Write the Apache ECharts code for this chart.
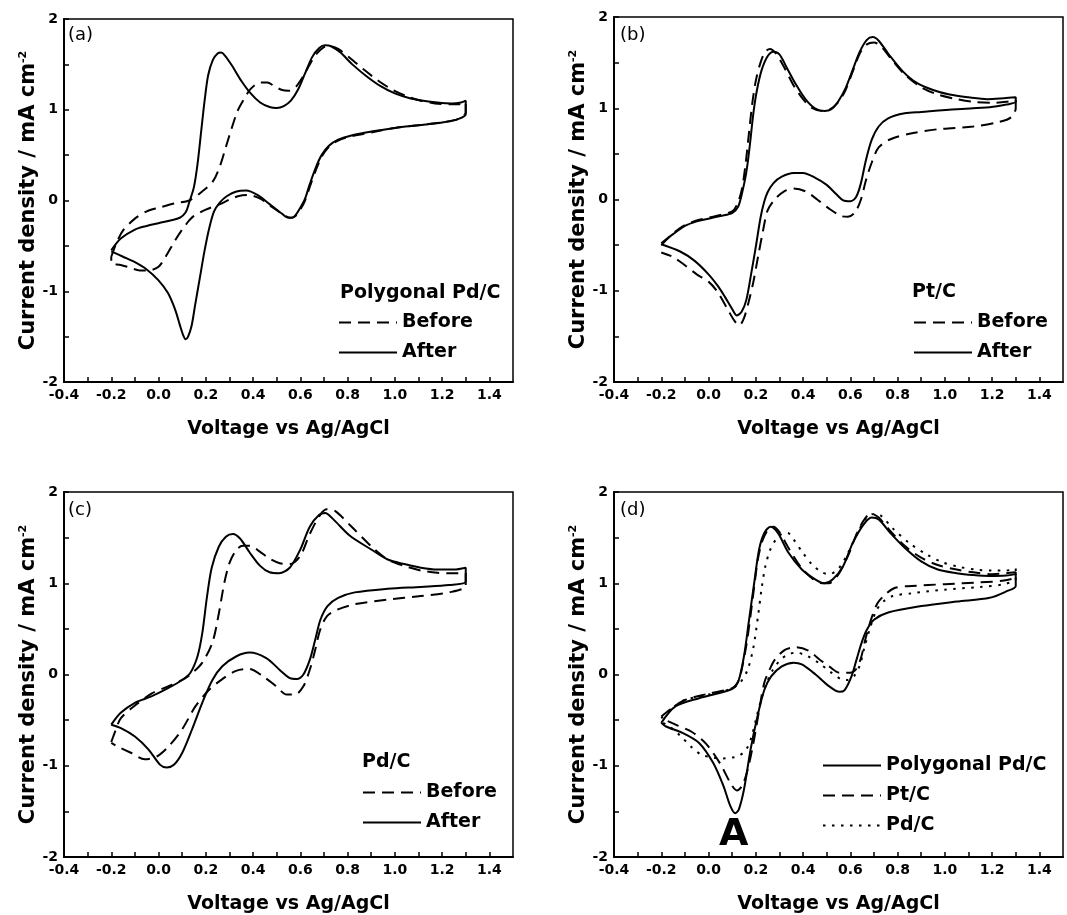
<!DOCTYPE html>
<html><head><meta charset="utf-8">
<script src="https://cdn.jsdelivr.net/npm/echarts@6/dist/echarts.min.js"></script>
<style>html,body{margin:0;padding:0;background:#fff}#c{width:1067px;height:915px}</style>
</head><body><div id="c"></div>
<script>
// ---- tick labels / tick marks ----
const xTickLabels = [-0.4, -0.2, 0.0, 0.2, 0.4, 0.6, 0.8, 1.0, 1.2, 1.4];
const xTickMarks = [-0.4, -0.3, -0.2, -0.1, 0.0, 0.1, 0.2, 0.3, 0.4, 0.5, 0.6, 0.7, 0.8, 0.9, 1.0, 1.1, 1.2, 1.3, 1.4];
const yTickLabels = [-2, -1, 0, 1, 2];
const yTickMarks = [-2, -1.5, -1, -0.5, 0, 0.5, 1, 1.5, 2];

const panelLetters = ['(a)', '(b)', '(c)', '(d)'];
const legendTitles = ['Polygonal Pd/C', 'Pt/C', 'Pd/C'];
const xName = 'Voltage vs Ag/AgCl';

// ---- panel (a): Polygonal Pd/C ----
const aBefore = [
[-0.2,-0.62],[-0.18,-0.48],[-0.15,-0.33],[-0.1,-0.2],[-0.05,-0.12],[0.0,-0.08],[0.07,-0.03],[0.13,0.0],[0.185,0.1],[0.23,0.21],[0.26,0.38],[0.285,0.59],[0.31,0.8],[0.335,0.99],[0.36,1.11],[0.39,1.23],[0.43,1.3],[0.46,1.3],[0.49,1.26],[0.52,1.22],[0.55,1.21],[0.58,1.25],[0.61,1.36],[0.64,1.5],[0.67,1.62],[0.7,1.69],[0.725,1.7],[0.76,1.67],[0.81,1.57],[0.87,1.44],[0.93,1.32],[0.99,1.22],[1.05,1.15],[1.11,1.1],[1.17,1.07],[1.23,1.06],[1.27,1.06],[1.3,1.08],
[1.3,0.97],[1.27,0.9],[1.2,0.86],[1.1,0.83],[1.0,0.8],[0.9,0.75],[0.82,0.71],[0.76,0.66],[0.72,0.59],[0.69,0.48],[0.665,0.33],[0.64,0.15],[0.62,0.0],[0.6,-0.1],[0.58,-0.17],[0.56,-0.19],[0.53,-0.16],[0.48,-0.07],[0.43,0.02],[0.38,0.06],[0.34,0.05],[0.3,0.01],[0.26,-0.04],[0.2,-0.1],[0.15,-0.17],[0.13,-0.22],[0.1,-0.32],[0.07,-0.44],[0.03,-0.62],[0.0,-0.73],[-0.04,-0.77],[-0.08,-0.77],[-0.12,-0.74],[-0.16,-0.71],[-0.2,-0.69],[-0.2,-0.62]
];
const aAfter = [
[-0.2,-0.55],[-0.16,-0.42],[-0.1,-0.32],[-0.05,-0.28],[0.0,-0.25],[0.05,-0.22],[0.09,-0.19],[0.115,-0.13],[0.13,-0.02],[0.15,0.15],[0.165,0.4],[0.18,0.75],[0.195,1.1],[0.21,1.38],[0.23,1.55],[0.25,1.62],[0.265,1.63],[0.28,1.6],[0.31,1.49],[0.35,1.32],[0.39,1.18],[0.43,1.08],[0.47,1.03],[0.5,1.02],[0.53,1.04],[0.56,1.1],[0.59,1.22],[0.62,1.4],[0.65,1.58],[0.68,1.68],[0.705,1.71],[0.73,1.7],[0.77,1.63],[0.82,1.5],[0.88,1.37],[0.94,1.26],[1.0,1.18],[1.06,1.13],[1.12,1.1],[1.18,1.08],[1.24,1.07],[1.28,1.08],[1.3,1.1],
[1.3,0.95],[1.27,0.9],[1.2,0.86],[1.1,0.83],[1.0,0.8],[0.9,0.76],[0.82,0.72],[0.76,0.67],[0.72,0.6],[0.69,0.5],[0.665,0.36],[0.64,0.18],[0.62,0.02],[0.6,-0.08],[0.58,-0.16],[0.565,-0.19],[0.55,-0.19],[0.52,-0.14],[0.47,-0.04],[0.42,0.06],[0.37,0.11],[0.33,0.1],[0.29,0.05],[0.26,-0.02],[0.235,-0.12],[0.215,-0.3],[0.195,-0.55],[0.175,-0.85],[0.155,-1.15],[0.14,-1.38],[0.125,-1.5],[0.115,-1.53],[0.105,-1.49],[0.09,-1.37],[0.07,-1.2],[0.04,-1.02],[0.0,-0.88],[-0.05,-0.76],[-0.1,-0.68],[-0.15,-0.62],[-0.2,-0.56]
];

// ---- panel (b): Pt/C ----
const bBefore = [
[-0.2,-0.5],[-0.15,-0.37],[-0.1,-0.28],[-0.05,-0.23],[0.0,-0.2],[0.05,-0.17],[0.1,-0.13],[0.12,-0.06],[0.14,0.1],[0.155,0.35],[0.17,0.7],[0.185,1.05],[0.2,1.3],[0.22,1.5],[0.24,1.62],[0.26,1.65],[0.285,1.6],[0.32,1.45],[0.36,1.25],[0.4,1.1],[0.44,1.0],[0.48,0.97],[0.51,0.98],[0.55,1.07],[0.58,1.2],[0.61,1.4],[0.64,1.6],[0.67,1.7],[0.7,1.72],[0.73,1.68],[0.77,1.55],[0.83,1.37],[0.9,1.23],[0.97,1.15],[1.05,1.1],[1.12,1.07],[1.2,1.06],[1.26,1.07],[1.3,1.09],
[1.3,1.0],[1.28,0.9],[1.23,0.85],[1.12,0.8],[0.97,0.77],[0.85,0.72],[0.77,0.66],[0.72,0.57],[0.69,0.4],[0.665,0.2],[0.645,0.0],[0.62,-0.14],[0.59,-0.19],[0.56,-0.18],[0.51,-0.1],[0.46,0.0],[0.41,0.09],[0.36,0.12],[0.32,0.09],[0.28,0.0],[0.25,-0.12],[0.23,-0.35],[0.21,-0.62],[0.19,-0.9],[0.17,-1.12],[0.15,-1.3],[0.13,-1.38],[0.11,-1.33],[0.08,-1.2],[0.04,-1.02],[0.0,-0.9],[-0.05,-0.82],[-0.1,-0.72],[-0.15,-0.63],[-0.2,-0.58]
];
const bAfter = [
[-0.2,-0.48],[-0.15,-0.38],[-0.1,-0.29],[-0.05,-0.24],[0.0,-0.21],[0.05,-0.18],[0.1,-0.15],[0.125,-0.08],[0.14,0.05],[0.16,0.3],[0.175,0.6],[0.19,0.95],[0.205,1.2],[0.225,1.42],[0.25,1.57],[0.275,1.62],[0.3,1.59],[0.33,1.45],[0.37,1.26],[0.41,1.1],[0.45,1.0],[0.49,0.97],[0.52,0.99],[0.55,1.08],[0.58,1.22],[0.61,1.42],[0.64,1.62],[0.67,1.75],[0.695,1.78],[0.72,1.74],[0.76,1.6],[0.82,1.41],[0.88,1.28],[0.95,1.2],[1.02,1.15],[1.1,1.12],[1.18,1.1],[1.25,1.11],[1.3,1.12],
[1.3,1.07],[1.26,1.04],[1.19,1.01],[1.05,0.99],[0.9,0.96],[0.83,0.945],[0.76,0.89],[0.72,0.8],[0.69,0.65],[0.665,0.42],[0.645,0.18],[0.625,0.03],[0.6,-0.02],[0.57,-0.01],[0.54,0.06],[0.5,0.16],[0.45,0.24],[0.4,0.29],[0.36,0.29],[0.31,0.25],[0.275,0.18],[0.25,0.08],[0.235,-0.03],[0.22,-0.2],[0.2,-0.52],[0.18,-0.82],[0.16,-1.1],[0.14,-1.23],[0.12,-1.27],[0.1,-1.2],[0.07,-1.07],[0.04,-0.95],[0.0,-0.82],[-0.06,-0.67],[-0.12,-0.57],[-0.2,-0.49]
];

// ---- panel (c): Pd/C ----
const cBefore = [
[-0.2,-0.74],[-0.18,-0.6],[-0.16,-0.48],[-0.1,-0.34],[-0.03,-0.21],[0.04,-0.13],[0.1,-0.06],[0.14,0.01],[0.185,0.13],[0.228,0.35],[0.256,0.68],[0.278,1.0],[0.3,1.22],[0.328,1.36],[0.356,1.41],[0.39,1.41],[0.427,1.35],[0.47,1.27],[0.513,1.22],[0.556,1.21],[0.6,1.3],[0.64,1.54],[0.684,1.75],[0.713,1.81],[0.748,1.79],[0.813,1.63],[0.898,1.41],[0.97,1.26],[1.04,1.19],[1.11,1.14],[1.18,1.115],[1.25,1.11],[1.3,1.11],
[1.3,0.97],[1.23,0.9],[1.11,0.86],[0.97,0.82],[0.83,0.77],[0.756,0.71],[0.713,0.64],[0.684,0.49],[0.663,0.27],[0.641,0.06],[0.613,-0.13],[0.577,-0.22],[0.542,-0.22],[0.499,-0.13],[0.442,-0.02],[0.385,0.06],[0.328,0.04],[0.27,-0.05],[0.213,-0.17],[0.156,-0.35],[0.1,-0.6],[0.042,-0.79],[-0.008,-0.9],[-0.058,-0.93],[-0.115,-0.86],[-0.172,-0.79],[-0.2,-0.75]
];
const cAfter = [
[-0.2,-0.55],[-0.16,-0.42],[-0.1,-0.31],[-0.03,-0.24],[0.04,-0.15],[0.1,-0.06],[0.135,0.02],[0.165,0.2],[0.185,0.45],[0.205,0.85],[0.225,1.17],[0.255,1.4],[0.285,1.51],[0.315,1.54],[0.345,1.49],[0.385,1.34],[0.43,1.19],[0.47,1.12],[0.51,1.11],[0.555,1.17],[0.6,1.37],[0.64,1.62],[0.68,1.75],[0.705,1.77],[0.74,1.7],[0.81,1.52],[0.9,1.37],[0.97,1.26],[1.04,1.21],[1.11,1.17],[1.18,1.15],[1.25,1.15],[1.3,1.17],
[1.3,1.02],[1.23,0.98],[1.11,0.96],[0.97,0.94],[0.83,0.9],[0.76,0.84],[0.715,0.75],[0.685,0.6],[0.663,0.38],[0.64,0.16],[0.613,0.0],[0.585,-0.05],[0.556,-0.04],[0.513,0.05],[0.456,0.18],[0.385,0.24],[0.33,0.2],[0.27,0.09],[0.228,-0.06],[0.185,-0.31],[0.142,-0.6],[0.1,-0.86],[0.065,-0.99],[0.035,-1.02],[0.007,-0.99],[-0.043,-0.82],[-0.1,-0.68],[-0.157,-0.59],[-0.2,-0.55]
];

// ---- panel (d): comparison ----
const dPolygonal = [
[-0.2,-0.53],[-0.14,-0.35],[-0.04,-0.26],[0.05,-0.2],[0.105,-0.15],[0.128,-0.06],[0.15,0.2],[0.17,0.57],[0.193,1.0],[0.214,1.37],[0.236,1.55],[0.262,1.62],[0.294,1.55],[0.337,1.34],[0.395,1.15],[0.453,1.04],[0.49,1.0],[0.525,1.04],[0.57,1.19],[0.61,1.44],[0.655,1.64],[0.69,1.72],[0.72,1.7],[0.77,1.55],[0.83,1.39],[0.9,1.24],[0.97,1.15],[1.05,1.11],[1.12,1.09],[1.19,1.08],[1.26,1.085],[1.3,1.1],
[1.3,0.97],[1.26,0.91],[1.19,0.84],[1.05,0.8],[0.9,0.75],[0.76,0.68],[0.7,0.6],[0.67,0.49],[0.648,0.35],[0.626,0.16],[0.605,-0.02],[0.576,-0.17],[0.554,-0.19],[0.511,-0.13],[0.453,0.0],[0.395,0.11],[0.36,0.13],[0.31,0.09],[0.265,-0.02],[0.236,-0.17],[0.207,-0.46],[0.178,-0.82],[0.15,-1.26],[0.128,-1.48],[0.113,-1.52],[0.092,-1.44],[0.063,-1.22],[0.02,-0.97],[-0.04,-0.75],[-0.11,-0.64],[-0.18,-0.57],[-0.2,-0.53]
];
const dPt = [
[-0.2,-0.46],[-0.15,-0.36],[-0.1,-0.28],[0.0,-0.21],[0.1,-0.15],[0.125,-0.08],[0.14,0.05],[0.16,0.32],[0.178,0.65],[0.195,1.0],[0.21,1.28],[0.23,1.48],[0.255,1.6],[0.275,1.62],[0.3,1.56],[0.34,1.38],[0.39,1.18],[0.44,1.05],[0.48,1.0],[0.51,1.0],[0.55,1.1],[0.59,1.3],[0.63,1.56],[0.665,1.72],[0.69,1.76],[0.72,1.72],[0.77,1.57],[0.83,1.41],[0.9,1.28],[0.97,1.2],[1.05,1.15],[1.12,1.12],[1.2,1.1],[1.26,1.11],[1.3,1.12],
[1.3,1.07],[1.25,1.03],[1.15,1.01],[1.0,0.99],[0.86,0.97],[0.79,0.95],[0.745,0.87],[0.715,0.78],[0.69,0.62],[0.665,0.4],[0.645,0.18],[0.625,0.06],[0.6,0.02],[0.555,0.02],[0.51,0.09],[0.467,0.17],[0.424,0.26],[0.37,0.3],[0.323,0.27],[0.28,0.16],[0.258,0.05],[0.236,-0.09],[0.215,-0.38],[0.19,-0.75],[0.165,-1.05],[0.142,-1.22],[0.12,-1.27],[0.095,-1.2],[0.05,-0.98],[-0.01,-0.76],[-0.07,-0.63],[-0.13,-0.56],[-0.2,-0.48]
];
const dPd = [
[-0.2,-0.48],[-0.15,-0.36],[-0.1,-0.28],[0.0,-0.22],[0.08,-0.17],[0.13,-0.1],[0.165,0.05],[0.19,0.3],[0.21,0.65],[0.225,0.95],[0.24,1.18],[0.26,1.36],[0.285,1.48],[0.31,1.54],[0.335,1.55],[0.36,1.48],[0.4,1.33],[0.44,1.2],[0.48,1.12],[0.51,1.1],[0.55,1.16],[0.59,1.33],[0.63,1.55],[0.67,1.72],[0.7,1.76],[0.73,1.74],[0.78,1.6],[0.85,1.44],[0.92,1.32],[0.99,1.23],[1.06,1.18],[1.13,1.15],[1.2,1.14],[1.26,1.14],[1.3,1.16],
[1.3,1.05],[1.25,0.99],[1.15,0.96],[1.0,0.93],[0.86,0.89],[0.78,0.86],[0.74,0.8],[0.71,0.7],[0.685,0.52],[0.66,0.3],[0.64,0.1],[0.615,-0.02],[0.585,-0.06],[0.56,-0.05],[0.52,0.02],[0.47,0.12],[0.42,0.2],[0.37,0.24],[0.33,0.21],[0.3,0.15],[0.27,0.04],[0.245,-0.1],[0.22,-0.3],[0.2,-0.5],[0.18,-0.7],[0.16,-0.82],[0.13,-0.89],[0.1,-0.91],[0.06,-0.92],[0.02,-0.91],[-0.03,-0.88],[-0.07,-0.8],[-0.12,-0.67],[-0.16,-0.58],[-0.2,-0.52]
];

// ---- layout ----
const FONT = 'DejaVu Sans';
const grids = [
  {left: 64, top: 19, width: 449, height: 363},
  {left: 614, top: 17, width: 449, height: 365},
  {left: 64, top: 492, width: 449, height: 365},
  {left: 614, top: 492, width: 449, height: 365}
];
const DASH = [12, 7];
const DOT = [2.5, 6.5];

const xAxes = grids.map((g, i) => ({
  type: 'value', gridIndex: i, min: -0.4, max: 1.5,
  name: xName, nameLocation: 'middle', nameGap: 38,
  nameTextStyle: {fontFamily: FONT, fontWeight: 'bold', fontSize: 19, color: '#000'},
  axisLine: {show: true, onZero: false, lineStyle: {color: '#000', width: 2}},
  axisTick: {show: true, inside: true, length: 5, customValues: xTickMarks, lineStyle: {color: '#000', width: 1.5}},
  axisLabel: {show: true, customValues: xTickLabels, margin: 6, fontFamily: FONT, fontWeight: 'bold', fontSize: 14, color: '#000',
    formatter: v => v.toFixed(1)},
  splitLine: {show: false}
}));
const yAxes = grids.map((g, i) => ({
  type: 'value', gridIndex: i, min: -2, max: 2,
  name: '{t|Current density / mA cm}{s|-2}', nameLocation: 'middle', nameGap: 25,
  nameTextStyle: {color: '#000', rich: {
    t: {fontFamily: FONT, fontWeight: 'bold', fontSize: 21, color: '#000'},
    s: {fontFamily: FONT, fontWeight: 'bold', fontSize: 11, color: '#000', verticalAlign: 'top'}
  }},
  axisLine: {show: true, onZero: false, lineStyle: {color: '#000', width: 2}},
  axisTick: {show: true, inside: true, length: 5, customValues: yTickMarks, lineStyle: {color: '#000', width: 1.5}},
  axisLabel: {show: true, customValues: yTickLabels, margin: 6, fontFamily: FONT, fontWeight: 'bold', fontSize: 14, color: '#000',
    formatter: v => String(v)},
  splitLine: {show: false}
}));

function line(name, data, idx, type) {
  return {
    type: 'line', name: name, data: data, xAxisIndex: idx, yAxisIndex: idx,
    symbol: 'none', showSymbol: false, smooth: 0.3, animation: false, silent: true,
    lineStyle: {color: '#000', width: 2, type: type},
    itemStyle: {color: '#000', opacity: 0}
  };
}
const series = [
  line('Before', aBefore, 0, DASH), line('After', aAfter, 0, 'solid'),
  line('Before', bBefore, 1, DASH), line('After', bAfter, 1, 'solid'),
  line('Before', cBefore, 2, DASH), line('After', cAfter, 2, 'solid'),
  line('Polygonal Pd/C', dPolygonal, 3, 'solid'), line('Pt/C', dPt, 3, DASH), line('Pd/C', dPd, 3, DOT)
];

const legendText = {fontFamily: FONT, fontWeight: 'bold', fontSize: 19, color: '#000'};
function legend(left, top, names) {
  return {left: left, top: top, orient: 'vertical', itemWidth: 58, itemHeight: 14, itemGap: 11,
    padding: 0, selectedMode: false, data: names, textStyle: legendText,
    itemStyle: {opacity: 0}, lineStyle: {width: 2}};
}

const titleStyle = {fontFamily: FONT, fontWeight: 'normal', fontSize: 18, color: '#000'};
const titles = [
  {text: panelLetters[0], left: 68, top: 26, padding: 0, textStyle: titleStyle},
  {text: panelLetters[1], left: 620, top: 26, padding: 0, textStyle: titleStyle},
  {text: panelLetters[2], left: 68, top: 501, padding: 0, textStyle: titleStyle},
  {text: panelLetters[3], left: 620, top: 501, padding: 0, textStyle: titleStyle},
  {text: legendTitles[0], left: 340, top: 284, padding: 0, textStyle: legendText},
  {text: legendTitles[1], left: 912, top: 283, padding: 0, textStyle: legendText},
  {text: legendTitles[2], left: 362, top: 753, padding: 0, textStyle: legendText},
  {text: 'A', left: 719, top: 816, padding: 0, textStyle: {fontFamily: FONT, fontWeight: 'bold', fontSize: 38, color: '#000'}}
];

const chart = echarts.init(document.getElementById('c'), null, {renderer: 'canvas'});
chart.setOption({
  backgroundColor: '#fff',
  animation: false,
  title: titles,
  grid: grids.map(g => Object.assign({show: true, borderColor: '#000', borderWidth: 1.5, backgroundColor: 'transparent'}, g)),
  xAxis: xAxes,
  yAxis: yAxes,
  legend: [
    legend(338, 313, ['Before', 'After']),
    legend(913, 313, ['Before', 'After']),
    legend(362, 783, ['Before', 'After']),
    legend(822, 756, ['Polygonal Pd/C', 'Pt/C', 'Pd/C'])
  ],
  series: series
});
</script>
</body></html>
